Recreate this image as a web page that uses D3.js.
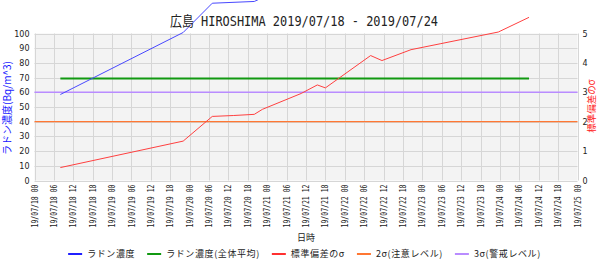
<!DOCTYPE html>
<html>
<head>
<meta charset="utf-8">
<script src="https://cdn.jsdelivr.net/npm/d3@7/dist/d3.min.js"></script>
<style>
  html, body { margin: 0; padding: 0; background: #fff; }
  svg { display: block; font-family: "Noto Sans CJK JP", "Noto Sans", sans-serif; }
</style>
</head>
<body>
<svg id="chart" width="600" height="263"></svg>
<script>
const titleText = "広島 HIROSHIMA 2019/07/18 - 2019/07/24";
const xDomain = ["2019-07-18 00:00", "2019-07-25 00:00"];
const leftTicks = [0, 10, 20, 30, 40, 50, 60, 70, 80, 90, 100];
const rightTicks = [0, 1, 2, 3, 4, 5];

// radon concentration (Bq/m^3), left axis
const radonTimes = ["2019-07-18 08:00", "2019-07-19 22:00", "2019-07-20 07:00", "2019-07-20 20:00", "2019-07-21 10:00"];
const radonValues = [58.5, 100.7, 120.6, 121.8, 136];

// overall mean of radon, left axis
const meanTimes = ["2019-07-18 08:00", "2019-07-24 09:00"];
const meanValue = 69.4;

// standard deviation sigma, right axis
const sigmaTimes = ["2019-07-18 08:00", "2019-07-19 22:00", "2019-07-20 07:00", "2019-07-20 13:30", "2019-07-20 20:00",
  "2019-07-20 22:30", "2019-07-21 10:30", "2019-07-21 15:30", "2019-07-21 18:00", "2019-07-22 08:00",
  "2019-07-22 11:30", "2019-07-22 20:30", "2019-07-23 05:30", "2019-07-23 23:30", "2019-07-24 09:00"];
const sigmaValues = [0.44, 1.34, 2.18, 2.21, 2.25, 2.42, 2.96, 3.25, 3.15, 4.25, 4.08, 4.45, 4.65, 5.05, 5.55];

// warning levels, right axis units
const level2 = 2;
const level3 = 3;

const legendLabels = ["ラドン濃度", "ラドン濃度(全体平均)", "標準偏差のσ", "2σ(注意レベル)", "3σ(警戒レベル)"];
const legendColors = ["#2020ff", "#119911", "#ff3030", "#ff7733", "#b98cff"];

const parse = d3.timeParse("%Y-%m-%d %H:%M");
const svg = d3.select("#chart");

const x = d3.scaleTime().domain(xDomain.map(parse)).range([34.5, 577.5]);
const y = d3.scaleLinear().domain([0, 100]).range([180.5, 33.5]);
const yR = d3.scaleLinear().domain([0, 5]).range([180.5, 33.5]);

// plot background
svg.append("rect")
  .attr("x", x.range()[0]).attr("y", y(100))
  .attr("width", x.range()[1] - x.range()[0])
  .attr("height", y(0) - y(100))
  .attr("fill", "#f3f3f3");

const xTicks = d3.timeHour.every(6).range(x.domain()[0], d3.timeHour.offset(x.domain()[1], 1));

// grid
const grid = svg.append("g").attr("stroke", "#d6d6d6").attr("stroke-width", 1);
grid.selectAll(".gx").data(xTicks).join("line")
  .attr("x1", d => Math.round(x(d)) + 0.5).attr("x2", d => Math.round(x(d)) + 0.5)
  .attr("y1", y(100)).attr("y2", y(0));
grid.selectAll(".gy").data(leftTicks).join("line")
  .attr("x1", x.range()[0]).attr("x2", x.range()[1])
  .attr("y1", d => Math.round(y(d)) + 0.5).attr("y2", d => Math.round(y(d)) + 0.5);

// axes
const axisL = d3.axisLeft(y).tickValues(leftTicks).tickSize(0).tickPadding(5);
svg.append("g").attr("transform", `translate(${x.range()[0]},0)`).call(axisL)
  .call(g => g.select(".domain").remove())
  .selectAll("text").attr("font-size", 8).attr("fill", "#222").attr("font-family", "DejaVu Sans");

const axisR = d3.axisRight(yR).tickValues(rightTicks).tickFormat(d3.format("d")).tickSize(0).tickPadding(5);
svg.append("g").attr("transform", `translate(${x.range()[1]},0)`).call(axisR)
  .call(g => g.select(".domain").remove())
  .selectAll("text").attr("font-size", 8).attr("fill", "#222").attr("font-family", "DejaVu Sans");

const axisX = d3.axisBottom(x).tickValues(xTicks).tickSize(0).tickFormat(d3.timeFormat("%y/%m/%d %H"));
svg.append("g").attr("transform", `translate(0,${y(0)})`).call(axisX)
  .call(g => g.select(".domain").remove())
  .selectAll("text")
  .attr("font-size", 8).attr("fill", "#222").attr("font-family", "DejaVu Sans Mono")
  .attr("textLength", 43).attr("lengthAdjust", "spacingAndGlyphs")
  .attr("transform", "rotate(-90)")
  .attr("text-anchor", "end")
  .attr("x", -4).attr("y", 0).attr("dy", "0.32em");

// lines
const lineL = d3.line().x(d => x(d[0])).y(d => y(d[1]));
const lineR = d3.line().x(d => x(d[0])).y(d => yR(d[1]));

svg.append("line")
  .attr("x1", x.range()[0]).attr("x2", x.range()[1])
  .attr("y1", yR(level2)).attr("y2", yR(level2))
  .attr("stroke", legendColors[3]).attr("stroke-width", 1.2);
svg.append("line")
  .attr("x1", x.range()[0]).attr("x2", x.range()[1])
  .attr("y1", yR(level3)).attr("y2", yR(level3))
  .attr("stroke", legendColors[4]).attr("stroke-width", 1.6);

svg.append("path")
  .attr("d", lineL(meanTimes.map(t => [parse(t), meanValue])))
  .attr("fill", "none").attr("stroke", legendColors[1]).attr("stroke-width", 2);

svg.append("path")
  .attr("d", lineR(sigmaTimes.map((t, i) => [parse(t), sigmaValues[i]])))
  .attr("fill", "none").attr("stroke", "#ff4040").attr("stroke-width", 1);

svg.append("path")
  .attr("d", lineL(radonTimes.map((t, i) => [parse(t), radonValues[i]])))
  .attr("fill", "none").attr("stroke", "#4848ff").attr("stroke-width", 1);

// titles
svg.append("text")
  .attr("x", 304).attr("y", 26)
  .attr("text-anchor", "middle")
  .attr("font-family", "DejaVu Sans Mono, Noto Sans CJK JP")
  .attr("font-size", 14)
  .attr("textLength", 268).attr("lengthAdjust", "spacingAndGlyphs")
  .attr("fill", "#222")
  .text(titleText);

svg.append("text")
  .attr("transform", "translate(11,108) rotate(-90)")
  .attr("text-anchor", "middle").attr("font-size", 10).attr("fill", "#1a1aff")
  .text("ラドン濃度(Bq/m^3)");

svg.append("text")
  .attr("transform", "translate(595,106) rotate(-90)")
  .attr("text-anchor", "middle").attr("font-size", 9.5).attr("fill", "#ff2020")
  .text("標準偏差のσ");

svg.append("text")
  .attr("x", 306).attr("y", 241)
  .attr("text-anchor", "middle").attr("font-size", 9).attr("fill", "#222")
  .text("日時");

// legend
const legend = svg.append("g");
let cx = 0;
legendLabels.forEach((label, i) => {
  const item = legend.append("g").attr("transform", `translate(${cx},0)`);
  item.append("line").attr("x1", 0).attr("x2", 14).attr("y1", 0).attr("y2", 0)
    .attr("stroke", legendColors[i]).attr("stroke-width", 2);
  const t = item.append("text").attr("x", 19).attr("y", 0).attr("dy", "0.35em")
    .attr("font-size", 9).attr("fill", "#222").attr("letter-spacing", 0.6).text(label);
  cx += 19 + t.node().getComputedTextLength() + 12;
});
const lw = cx - 12;
legend.attr("transform", `translate(${(81 + 528) / 2 - lw / 2},254)`);
</script>
</body>
</html>
